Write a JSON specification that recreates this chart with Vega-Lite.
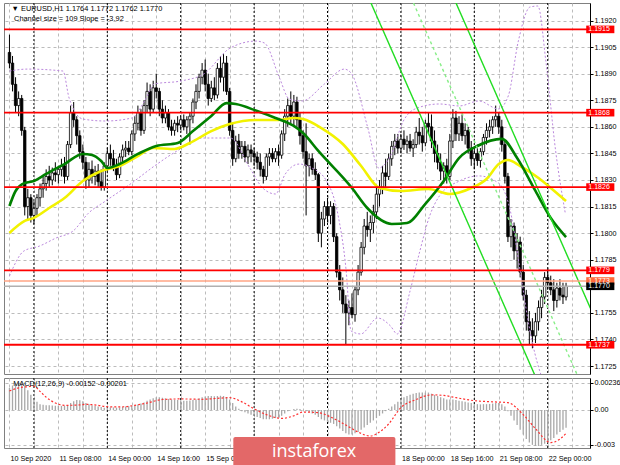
{
  "$schema": "https://vega.github.io/schema/vega-lite/v6.json",
  "padding": {"left": 2, "top": 2, "right": 0, "bottom": 0},
  "background": "#ffffff",
  "spacing": 4,
  "bounds": "flush",
  "config": {
    "view": {"stroke": "#808080", "strokeWidth": 1},
    "font": "Liberation Sans",
    "axis": {"labelFont": "Liberation Sans", "labelFontSize": 7.2, "labelColor": "#000000", "title": null, "gridColor": "#bcbcbc", "gridDash": [3, 3], "gridWidth": 1, "domainColor": "#000000", "tickColor": "#000000"}
  },
  "datasets": {
    "sep": [{"i": 8}, {"i": 32}, {"i": 56}, {"i": 80}, {"i": 104}, {"i": 128}, {"i": 152}, {"i": 176}],
    "lvl": [
      {"p": 1.1915, "k": "level"}, {"p": 1.1868, "k": "level"}, {"p": 1.1826, "k": "level"}, {"p": 1.1779, "k": "level"}, {"p": 1.1737, "k": "level"},
      {"p": 1.1773, "k": "ask"}, {"p": 1.1770, "k": "bid"}
    ],
    "chan": [
      {"s": "up", "i": 140, "p": 1.19535}, {"s": "up", "i": 190, "p": 1.17575},
      {"s": "mid", "i": 125, "p": 1.19578}, {"s": "mid", "i": 190, "p": 1.1703},
      {"s": "low", "i": 110, "p": 1.19621}, {"s": "low", "i": 180, "p": 1.16877}
    ],
    "ma": [
      {"s": "ma2", "i": 0, "p": 1.18001}, {"s": "ma2", "i": 5, "p": 1.18069}, {"s": "ma2", "i": 8, "p": 1.18086}, {"s": "ma2", "i": 13, "p": 1.18142}, {"s": "ma2", "i": 18, "p": 1.18198}, {"s": "ma2", "i": 24, "p": 1.18294}, {"s": "ma2", "i": 30, "p": 1.18351}, {"s": "ma2", "i": 36, "p": 1.18379}, {"s": "ma2", "i": 42, "p": 1.18435}, {"s": "ma2", "i": 47, "p": 1.18481}, {"s": "ma2", "i": 54, "p": 1.18475}, {"s": "ma2", "i": 59, "p": 1.18509}, {"s": "ma2", "i": 66, "p": 1.18576}, {"s": "ma2", "i": 72, "p": 1.18616}, {"s": "ma2", "i": 81, "p": 1.18639}, {"s": "ma2", "i": 88, "p": 1.18639}, {"s": "ma2", "i": 93, "p": 1.1865}, {"s": "ma2", "i": 96, "p": 1.18644}, {"s": "ma2", "i": 102, "p": 1.18593}, {"s": "ma2", "i": 109, "p": 1.18503}, {"s": "ma2", "i": 115, "p": 1.18379}, {"s": "ma2", "i": 121, "p": 1.18255}, {"s": "ma2", "i": 128, "p": 1.18238}, {"s": "ma2", "i": 137, "p": 1.18249}, {"s": "ma2", "i": 144, "p": 1.18221}, {"s": "ma2", "i": 151, "p": 1.18255}, {"s": "ma2", "i": 156, "p": 1.18306}, {"s": "ma2", "i": 160, "p": 1.1839}, {"s": "ma2", "i": 163, "p": 1.18413}, {"s": "ma2", "i": 167, "p": 1.18379}, {"s": "ma2", "i": 173, "p": 1.18311}, {"s": "ma2", "i": 177, "p": 1.18255}, {"s": "ma2", "i": 182, "p": 1.18181},
      {"s": "ma1", "i": 0, "p": 1.18153}, {"s": "ma1", "i": 2, "p": 1.18238}, {"s": "ma1", "i": 5, "p": 1.18283}, {"s": "ma1", "i": 8, "p": 1.18294}, {"s": "ma1", "i": 12, "p": 1.18334}, {"s": "ma1", "i": 18, "p": 1.1839}, {"s": "ma1", "i": 24, "p": 1.18447}, {"s": "ma1", "i": 27, "p": 1.18441}, {"s": "ma1", "i": 30, "p": 1.18407}, {"s": "ma1", "i": 32, "p": 1.18368}, {"s": "ma1", "i": 36, "p": 1.1839}, {"s": "ma1", "i": 42, "p": 1.18447}, {"s": "ma1", "i": 48, "p": 1.18492}, {"s": "ma1", "i": 55, "p": 1.18509}, {"s": "ma1", "i": 60, "p": 1.18576}, {"s": "ma1", "i": 66, "p": 1.18661}, {"s": "ma1", "i": 71, "p": 1.18734}, {"s": "ma1", "i": 74, "p": 1.18729}, {"s": "ma1", "i": 81, "p": 1.18689}, {"s": "ma1", "i": 87, "p": 1.1865}, {"s": "ma1", "i": 93, "p": 1.18605}, {"s": "ma1", "i": 96, "p": 1.18565}, {"s": "ma1", "i": 101, "p": 1.18464}, {"s": "ma1", "i": 112, "p": 1.18255}, {"s": "ma1", "i": 117, "p": 1.18142}, {"s": "ma1", "i": 125, "p": 1.18052}, {"s": "ma1", "i": 130, "p": 1.18057}, {"s": "ma1", "i": 136, "p": 1.18165}, {"s": "ma1", "i": 142, "p": 1.18294}, {"s": "ma1", "i": 147, "p": 1.18424}, {"s": "ma1", "i": 153, "p": 1.18492}, {"s": "ma1", "i": 161, "p": 1.18532}, {"s": "ma1", "i": 166, "p": 1.18424}, {"s": "ma1", "i": 172, "p": 1.18238}, {"s": "ma1", "i": 177, "p": 1.18085}, {"s": "ma1", "i": 182, "p": 1.17978}
    ],
    "bands": [
      {"s": "u", "i": 0, "p": 1.18915}, {"s": "u", "i": 6, "p": 1.18926}, {"s": "u", "i": 17.5, "p": 1.18915}, {"s": "u", "i": 19.5, "p": 1.18763}, {"s": "u", "i": 24, "p": 1.18644}, {"s": "u", "i": 31.4, "p": 1.18633}, {"s": "u", "i": 40, "p": 1.1865}, {"s": "u", "i": 44.2, "p": 1.18746}, {"s": "u", "i": 47.4, "p": 1.18842}, {"s": "u", "i": 56.1, "p": 1.18859}, {"s": "u", "i": 63.5, "p": 1.18898}, {"s": "u", "i": 72.2, "p": 1.19045}, {"s": "u", "i": 80.6, "p": 1.19084}, {"s": "u", "i": 83.4, "p": 1.19073}, {"s": "u", "i": 88.3, "p": 1.18876}, {"s": "u", "i": 91.5, "p": 1.18757}, {"s": "u", "i": 95.7, "p": 1.18746}, {"s": "u", "i": 103, "p": 1.18842}, {"s": "u", "i": 109.5, "p": 1.18926}, {"s": "u", "i": 111.7, "p": 1.18904}, {"s": "u", "i": 117.2, "p": 1.18593}, {"s": "u", "i": 120.7, "p": 1.18368}, {"s": "u", "i": 124.6, "p": 1.18436}, {"s": "u", "i": 128.8, "p": 1.18633}, {"s": "u", "i": 133.3, "p": 1.18706}, {"s": "u", "i": 140.6, "p": 1.18729}, {"s": "u", "i": 147.1, "p": 1.18718}, {"s": "u", "i": 153.5, "p": 1.18746}, {"s": "u", "i": 159.9, "p": 1.18701}, {"s": "u", "i": 163.1, "p": 1.18774}, {"s": "u", "i": 166.4, "p": 1.19084}, {"s": "u", "i": 170.2, "p": 1.19276}, {"s": "u", "i": 172.8, "p": 1.19282}, {"s": "u", "i": 175.4, "p": 1.18971}, {"s": "u", "i": 178.6, "p": 1.18464}, {"s": "u", "i": 181.8, "p": 1.18108},
      {"s": "l", "i": 0, "p": 1.17758}, {"s": "l", "i": 4.7, "p": 1.17899}, {"s": "l", "i": 9.8, "p": 1.17927}, {"s": "l", "i": 15.3, "p": 1.17973}, {"s": "l", "i": 20.8, "p": 1.18012}, {"s": "l", "i": 25.9, "p": 1.18114}, {"s": "l", "i": 31.4, "p": 1.18181}, {"s": "l", "i": 40, "p": 1.18283}, {"s": "l", "i": 47.4, "p": 1.18379}, {"s": "l", "i": 54.8, "p": 1.18464}, {"s": "l", "i": 63.5, "p": 1.18537}, {"s": "l", "i": 72.2, "p": 1.18537}, {"s": "l", "i": 78.6, "p": 1.18368}, {"s": "l", "i": 82.8, "p": 1.18255}, {"s": "l", "i": 87, "p": 1.18221}, {"s": "l", "i": 90.2, "p": 1.18334}, {"s": "l", "i": 94.7, "p": 1.1839}, {"s": "l", "i": 98.9, "p": 1.18368}, {"s": "l", "i": 103.7, "p": 1.18294}, {"s": "l", "i": 107.5, "p": 1.18097}, {"s": "l", "i": 110.1, "p": 1.17787}, {"s": "l", "i": 111.7, "p": 1.17448}, {"s": "l", "i": 114.9, "p": 1.17431}, {"s": "l", "i": 120.4, "p": 1.17521}, {"s": "l", "i": 124.6, "p": 1.17476}, {"s": "l", "i": 126.8, "p": 1.17431}, {"s": "l", "i": 131, "p": 1.17674}, {"s": "l", "i": 134.2, "p": 1.17899}, {"s": "l", "i": 137.4, "p": 1.18097}, {"s": "l", "i": 140.6, "p": 1.1821}, {"s": "l", "i": 147.1, "p": 1.18294}, {"s": "l", "i": 153.5, "p": 1.18323}, {"s": "l", "i": 159.9, "p": 1.18283}, {"s": "l", "i": 163.8, "p": 1.18125}, {"s": "l", "i": 167, "p": 1.17787}, {"s": "l", "i": 170.2, "p": 1.17448}, {"s": "l", "i": 173.4, "p": 1.17222}, {"s": "l", "i": 176, "p": 1.17109}
    ],
    "sig": [
      {"i": 0, "s": 0.00164}, {"i": 3, "s": 0.0019}, {"i": 6, "s": 0.002}, {"i": 8, "s": 0.00205}, {"i": 10, "s": 0.0016}, {"i": 12, "s": 0.0011}, {"i": 15, "s": 0.0006}, {"i": 18, "s": 0.0004}, {"i": 22, "s": 0.00042}, {"i": 25, "s": 0.00048}, {"i": 29, "s": 0.0004}, {"i": 32, "s": 0.00028}, {"i": 36, "s": 0.00026}, {"i": 41, "s": 0.0004}, {"i": 45, "s": 0.0006}, {"i": 50, "s": 0.0009}, {"i": 56, "s": 0.00095}, {"i": 63, "s": 0.00092}, {"i": 68, "s": 0.001}, {"i": 72, "s": 0.00106}, {"i": 76, "s": 0.0007}, {"i": 80, "s": 0.0001}, {"i": 84, "s": -0.0004}, {"i": 89, "s": -0.00072}, {"i": 93, "s": -0.0005}, {"i": 96, "s": -0.00018}, {"i": 101, "s": -0.00023}, {"i": 105, "s": -0.0006}, {"i": 110, "s": -0.0013}, {"i": 114, "s": -0.0019}, {"i": 118, "s": -0.00224}, {"i": 121, "s": -0.0019}, {"i": 124, "s": -0.0012}, {"i": 128, "s": 0.0002}, {"i": 133, "s": 0.0009}, {"i": 138, "s": 0.0013}, {"i": 142, "s": 0.00125}, {"i": 146, "s": 0.00106}, {"i": 152, "s": 0.0008}, {"i": 158, "s": 0.0007}, {"i": 163, "s": 0.00063}, {"i": 168, "s": -0.0004}, {"i": 172, "s": -0.0016}, {"i": 177, "s": -0.0028}, {"i": 180, "s": -0.0025}, {"i": 182, "s": -0.00201}
    ],
    "bars": [
      {"i":0,"o":1.1902,"h":1.1912,"l":1.1893,"c":1.1896,"m":0.0019},
      {"i":1,"o":1.1896,"h":1.1900,"l":1.1880,"c":1.1884,"m":0.0021},
      {"i":2,"o":1.1884,"h":1.1888,"l":1.1868,"c":1.1872,"m":0.0023},
      {"i":3,"o":1.1872,"h":1.1880,"l":1.1866,"c":1.1876,"m":0.00236},
      {"i":4,"o":1.1876,"h":1.1878,"l":1.1855,"c":1.1858,"m":0.0023},
      {"i":5,"o":1.1858,"h":1.1860,"l":1.1810,"c":1.1815,"m":0.0021},
      {"i":6,"o":1.1815,"h":1.1825,"l":1.1808,"c":1.1820,"m":0.0017},
      {"i":7,"o":1.1820,"h":1.1822,"l":1.1806,"c":1.1810,"m":0.0013},
      {"i":8,"o":1.1810,"h":1.1818,"l":1.1805,"c":1.1814,"m":0.0009},
      {"i":9,"o":1.1814,"h":1.1822,"l":1.1810,"c":1.1820,"m":0.0007},
      {"i":10,"o":1.1820,"h":1.1828,"l":1.1815,"c":1.1825,"m":0.0005},
      {"i":11,"o":1.1825,"h":1.1832,"l":1.1820,"c":1.1828,"m":0.00045},
      {"i":12,"o":1.1828,"h":1.1836,"l":1.1824,"c":1.1832,"m":0.0004},
      {"i":13,"o":1.1832,"h":1.1838,"l":1.1826,"c":1.1830,"m":0.0004},
      {"i":14,"o":1.1830,"h":1.1837,"l":1.1827,"c":1.1834,"m":0.00038},
      {"i":15,"o":1.1834,"h":1.1840,"l":1.1829,"c":1.1833,"m":0.00037},
      {"i":16,"o":1.1833,"h":1.1838,"l":1.1828,"c":1.1836,"m":0.00036},
      {"i":17,"o":1.1836,"h":1.1842,"l":1.1832,"c":1.1838,"m":0.00035},
      {"i":18,"o":1.1838,"h":1.1843,"l":1.1828,"c":1.1832,"m":0.00036},
      {"i":19,"o":1.1832,"h":1.1852,"l":1.1830,"c":1.1850,"m":0.0004},
      {"i":20,"o":1.1850,"h":1.1872,"l":1.1848,"c":1.1868,"m":0.0006},
      {"i":21,"o":1.1868,"h":1.1874,"l":1.1860,"c":1.1864,"m":0.00075},
      {"i":22,"o":1.1864,"h":1.1866,"l":1.1850,"c":1.1855,"m":0.00085},
      {"i":23,"o":1.1855,"h":1.1858,"l":1.1842,"c":1.1846,"m":0.00083},
      {"i":24,"o":1.1846,"h":1.1850,"l":1.1836,"c":1.1840,"m":0.00075},
      {"i":25,"o":1.1840,"h":1.1843,"l":1.1825,"c":1.1830,"m":0.0006},
      {"i":26,"o":1.1830,"h":1.1840,"l":1.1826,"c":1.1836,"m":0.0005},
      {"i":27,"o":1.1836,"h":1.1841,"l":1.1828,"c":1.1832,"m":0.0004},
      {"i":28,"o":1.1832,"h":1.1838,"l":1.1827,"c":1.1835,"m":0.00035},
      {"i":29,"o":1.1835,"h":1.1839,"l":1.1826,"c":1.1829,"m":0.0003},
      {"i":30,"o":1.1829,"h":1.1836,"l":1.1824,"c":1.1826,"m":0.00025},
      {"i":31,"o":1.1826,"h":1.1840,"l":1.1824,"c":1.1838,"m":0.0002},
      {"i":32,"o":1.1838,"h":1.1848,"l":1.1835,"c":1.1845,"m":0.0002},
      {"i":33,"o":1.1845,"h":1.1850,"l":1.1838,"c":1.1842,"m":0.00022},
      {"i":34,"o":1.1842,"h":1.1847,"l":1.1835,"c":1.1838,"m":0.00022},
      {"i":35,"o":1.1838,"h":1.1842,"l":1.1830,"c":1.1833,"m":0.0002},
      {"i":36,"o":1.1833,"h":1.1845,"l":1.1831,"c":1.1843,"m":0.00022},
      {"i":37,"o":1.1843,"h":1.1850,"l":1.1840,"c":1.1847,"m":0.00025},
      {"i":38,"o":1.1847,"h":1.1852,"l":1.1843,"c":1.1848,"m":0.0003},
      {"i":39,"o":1.1848,"h":1.1852,"l":1.1844,"c":1.1846,"m":0.00032},
      {"i":40,"o":1.1846,"h":1.1858,"l":1.1844,"c":1.1856,"m":0.00035},
      {"i":41,"o":1.1856,"h":1.1866,"l":1.1852,"c":1.1862,"m":0.0004},
      {"i":42,"o":1.1862,"h":1.1872,"l":1.1858,"c":1.1868,"m":0.00048},
      {"i":43,"o":1.1868,"h":1.1870,"l":1.1855,"c":1.1858,"m":0.00055},
      {"i":44,"o":1.1858,"h":1.1875,"l":1.1856,"c":1.1872,"m":0.00065},
      {"i":45,"o":1.1872,"h":1.1885,"l":1.1868,"c":1.1880,"m":0.0008},
      {"i":46,"o":1.1880,"h":1.1884,"l":1.1866,"c":1.1870,"m":0.0009},
      {"i":47,"o":1.1870,"h":1.1886,"l":1.1868,"c":1.1882,"m":0.001},
      {"i":48,"o":1.1882,"h":1.1890,"l":1.1876,"c":1.1880,"m":0.0011},
      {"i":49,"o":1.1880,"h":1.1882,"l":1.1866,"c":1.1870,"m":0.0011},
      {"i":50,"o":1.1870,"h":1.1875,"l":1.1862,"c":1.1865,"m":0.00105},
      {"i":51,"o":1.1865,"h":1.1872,"l":1.1862,"c":1.1868,"m":0.001},
      {"i":52,"o":1.1868,"h":1.1870,"l":1.1858,"c":1.1860,"m":0.00095},
      {"i":53,"o":1.1860,"h":1.1864,"l":1.1855,"c":1.1858,"m":0.0009},
      {"i":54,"o":1.1858,"h":1.1864,"l":1.1855,"c":1.1862,"m":0.00088},
      {"i":55,"o":1.1862,"h":1.1866,"l":1.1857,"c":1.1861,"m":0.00085},
      {"i":56,"o":1.1861,"h":1.1866,"l":1.1858,"c":1.1864,"m":0.00083},
      {"i":57,"o":1.1864,"h":1.1867,"l":1.1858,"c":1.1860,"m":0.0008},
      {"i":58,"o":1.1860,"h":1.1866,"l":1.1856,"c":1.1864,"m":0.0008},
      {"i":59,"o":1.1864,"h":1.1868,"l":1.1850,"c":1.1866,"m":0.00082},
      {"i":60,"o":1.1866,"h":1.1876,"l":1.1862,"c":1.1874,"m":0.00085},
      {"i":61,"o":1.1874,"h":1.1884,"l":1.1870,"c":1.1880,"m":0.0009},
      {"i":62,"o":1.1880,"h":1.1890,"l":1.1876,"c":1.1888,"m":0.001},
      {"i":63,"o":1.1888,"h":1.1896,"l":1.1884,"c":1.1892,"m":0.0011},
      {"i":64,"o":1.1892,"h":1.1898,"l":1.1880,"c":1.1884,"m":0.00115},
      {"i":65,"o":1.1884,"h":1.1890,"l":1.1872,"c":1.1876,"m":0.0012},
      {"i":66,"o":1.1876,"h":1.1886,"l":1.1874,"c":1.1882,"m":0.0012},
      {"i":67,"o":1.1882,"h":1.1888,"l":1.1875,"c":1.1878,"m":0.00118},
      {"i":68,"o":1.1878,"h":1.1896,"l":1.1876,"c":1.1893,"m":0.0012},
      {"i":69,"o":1.1893,"h":1.1900,"l":1.1885,"c":1.1888,"m":0.00122},
      {"i":70,"o":1.1888,"h":1.1901,"l":1.1880,"c":1.1896,"m":0.0012},
      {"i":71,"o":1.1896,"h":1.1900,"l":1.1878,"c":1.1880,"m":0.0011},
      {"i":72,"o":1.1880,"h":1.1882,"l":1.1855,"c":1.1858,"m":0.0009},
      {"i":73,"o":1.1858,"h":1.1862,"l":1.1838,"c":1.1842,"m":0.0006},
      {"i":74,"o":1.1842,"h":1.1855,"l":1.1840,"c":1.1852,"m":0.0003},
      {"i":75,"o":1.1852,"h":1.1856,"l":1.1842,"c":1.1845,"m":0.0001},
      {"i":76,"o":1.1845,"h":1.1852,"l":1.1842,"c":1.1849,"m":-0.0001},
      {"i":77,"o":1.1849,"h":1.1852,"l":1.1840,"c":1.1843,"m":-0.0002},
      {"i":78,"o":1.1843,"h":1.1850,"l":1.1839,"c":1.1847,"m":-0.0003},
      {"i":79,"o":1.1847,"h":1.1850,"l":1.1840,"c":1.1845,"m":-0.0004},
      {"i":80,"o":1.1845,"h":1.1848,"l":1.1838,"c":1.1843,"m":-0.0005},
      {"i":81,"o":1.1843,"h":1.1846,"l":1.1836,"c":1.1840,"m":-0.0006},
      {"i":82,"o":1.1840,"h":1.1845,"l":1.1832,"c":1.1836,"m":-0.0007},
      {"i":83,"o":1.1836,"h":1.1838,"l":1.1828,"c":1.1832,"m":-0.0008},
      {"i":84,"o":1.1832,"h":1.1845,"l":1.1830,"c":1.1843,"m":-0.0008},
      {"i":85,"o":1.1843,"h":1.1848,"l":1.1838,"c":1.1845,"m":-0.0008},
      {"i":86,"o":1.1845,"h":1.1848,"l":1.1840,"c":1.1842,"m":-0.00075},
      {"i":87,"o":1.1842,"h":1.1848,"l":1.1840,"c":1.1846,"m":-0.0007},
      {"i":88,"o":1.1846,"h":1.1850,"l":1.1838,"c":1.1844,"m":-0.00065},
      {"i":89,"o":1.1844,"h":1.1858,"l":1.1842,"c":1.1856,"m":-0.0005},
      {"i":90,"o":1.1856,"h":1.1870,"l":1.1852,"c":1.1866,"m":-0.0003},
      {"i":91,"o":1.1866,"h":1.1876,"l":1.1860,"c":1.1872,"m":-0.0001},
      {"i":92,"o":1.1872,"h":1.1880,"l":1.1862,"c":1.1866,"m":0.0},
      {"i":93,"o":1.1866,"h":1.1878,"l":1.1860,"c":1.1874,"m":0.00008},
      {"i":94,"o":1.1874,"h":1.1877,"l":1.1860,"c":1.1864,"m":0.0001},
      {"i":95,"o":1.1864,"h":1.1868,"l":1.1850,"c":1.1855,"m":0.00008},
      {"i":96,"o":1.1855,"h":1.1858,"l":1.1842,"c":1.1846,"m":0.0},
      {"i":97,"o":1.1846,"h":1.1862,"l":1.1810,"c":1.1838,"m":-0.0001},
      {"i":98,"o":1.1838,"h":1.1845,"l":1.1832,"c":1.1842,"m":-0.0002},
      {"i":99,"o":1.1842,"h":1.1845,"l":1.1833,"c":1.1836,"m":-0.0003},
      {"i":100,"o":1.1836,"h":1.1840,"l":1.1830,"c":1.1833,"m":-0.0004},
      {"i":101,"o":1.1833,"h":1.1834,"l":1.1795,"c":1.1800,"m":-0.0006},
      {"i":102,"o":1.1800,"h":1.1812,"l":1.1792,"c":1.1808,"m":-0.0008},
      {"i":103,"o":1.1808,"h":1.1818,"l":1.1804,"c":1.1815,"m":-0.0009},
      {"i":104,"o":1.1815,"h":1.1820,"l":1.1806,"c":1.1810,"m":-0.001},
      {"i":105,"o":1.1810,"h":1.1818,"l":1.1805,"c":1.1815,"m":-0.0011},
      {"i":106,"o":1.1815,"h":1.1817,"l":1.1795,"c":1.1798,"m":-0.0012},
      {"i":107,"o":1.1798,"h":1.1800,"l":1.1775,"c":1.1778,"m":-0.0014},
      {"i":108,"o":1.1778,"h":1.1782,"l":1.1762,"c":1.1768,"m":-0.0016},
      {"i":109,"o":1.1768,"h":1.1775,"l":1.1755,"c":1.1760,"m":-0.0018},
      {"i":110,"o":1.1760,"h":1.1765,"l":1.1737,"c":1.1755,"m":-0.002},
      {"i":111,"o":1.1755,"h":1.1762,"l":1.1748,"c":1.1758,"m":-0.0021},
      {"i":112,"o":1.1758,"h":1.1766,"l":1.1752,"c":1.1754,"m":-0.0021},
      {"i":113,"o":1.1754,"h":1.1770,"l":1.1750,"c":1.1768,"m":-0.002},
      {"i":114,"o":1.1768,"h":1.1782,"l":1.1765,"c":1.1778,"m":-0.0019},
      {"i":115,"o":1.1778,"h":1.1795,"l":1.1776,"c":1.1792,"m":-0.0017},
      {"i":116,"o":1.1792,"h":1.1808,"l":1.1788,"c":1.1804,"m":-0.0015},
      {"i":117,"o":1.1804,"h":1.1812,"l":1.1798,"c":1.1802,"m":-0.0013},
      {"i":118,"o":1.1802,"h":1.1810,"l":1.1795,"c":1.1806,"m":-0.0011},
      {"i":119,"o":1.1806,"h":1.1816,"l":1.1800,"c":1.1812,"m":-0.0009},
      {"i":120,"o":1.1812,"h":1.1826,"l":1.1808,"c":1.1822,"m":-0.0007},
      {"i":121,"o":1.1822,"h":1.1830,"l":1.1815,"c":1.1826,"m":-0.0005},
      {"i":122,"o":1.1826,"h":1.1838,"l":1.1822,"c":1.1834,"m":-0.0003},
      {"i":123,"o":1.1834,"h":1.1842,"l":1.1826,"c":1.1832,"m":-0.0001},
      {"i":124,"o":1.1832,"h":1.1845,"l":1.1830,"c":1.1842,"m":0.0001},
      {"i":125,"o":1.1842,"h":1.1852,"l":1.1838,"c":1.1849,"m":0.0003},
      {"i":126,"o":1.1849,"h":1.1856,"l":1.1844,"c":1.1852,"m":0.0005},
      {"i":127,"o":1.1852,"h":1.1856,"l":1.1845,"c":1.1848,"m":0.0007},
      {"i":128,"o":1.1848,"h":1.1856,"l":1.1845,"c":1.1853,"m":0.0009},
      {"i":129,"o":1.1853,"h":1.1858,"l":1.1847,"c":1.1850,"m":0.0011},
      {"i":130,"o":1.1850,"h":1.1855,"l":1.1845,"c":1.1852,"m":0.0012},
      {"i":131,"o":1.1852,"h":1.1856,"l":1.1846,"c":1.1848,"m":0.0013},
      {"i":132,"o":1.1848,"h":1.1853,"l":1.1843,"c":1.1850,"m":0.0014},
      {"i":133,"o":1.1850,"h":1.1860,"l":1.1848,"c":1.1857,"m":0.00145},
      {"i":134,"o":1.1857,"h":1.1865,"l":1.1850,"c":1.1855,"m":0.0015},
      {"i":135,"o":1.1855,"h":1.1860,"l":1.1846,"c":1.1851,"m":0.0015},
      {"i":136,"o":1.1851,"h":1.1864,"l":1.1849,"c":1.1862,"m":0.0015},
      {"i":137,"o":1.1862,"h":1.1868,"l":1.1856,"c":1.1860,"m":0.0015},
      {"i":138,"o":1.1860,"h":1.1867,"l":1.1848,"c":1.1852,"m":0.0014},
      {"i":139,"o":1.1852,"h":1.1858,"l":1.1840,"c":1.1845,"m":0.0013},
      {"i":140,"o":1.1845,"h":1.1850,"l":1.1836,"c":1.1840,"m":0.0012},
      {"i":141,"o":1.1840,"h":1.1845,"l":1.1830,"c":1.1835,"m":0.0011},
      {"i":142,"o":1.1835,"h":1.1840,"l":1.1828,"c":1.1838,"m":0.001},
      {"i":143,"o":1.1838,"h":1.1842,"l":1.1828,"c":1.1832,"m":0.0009},
      {"i":144,"o":1.1832,"h":1.1856,"l":1.1830,"c":1.1852,"m":0.0009},
      {"i":145,"o":1.1852,"h":1.1870,"l":1.1848,"c":1.1865,"m":0.0009},
      {"i":146,"o":1.1865,"h":1.1869,"l":1.1852,"c":1.1856,"m":0.00085},
      {"i":147,"o":1.1856,"h":1.1866,"l":1.1852,"c":1.1862,"m":0.0008},
      {"i":148,"o":1.1862,"h":1.1867,"l":1.1852,"c":1.1855,"m":0.00075},
      {"i":149,"o":1.1855,"h":1.1862,"l":1.1850,"c":1.1858,"m":0.0007},
      {"i":150,"o":1.1858,"h":1.1860,"l":1.1845,"c":1.1848,"m":0.00065},
      {"i":151,"o":1.1848,"h":1.1852,"l":1.1838,"c":1.1842,"m":0.0006},
      {"i":152,"o":1.1842,"h":1.1848,"l":1.1836,"c":1.1845,"m":0.0005},
      {"i":153,"o":1.1845,"h":1.1850,"l":1.1838,"c":1.1841,"m":0.0005},
      {"i":154,"o":1.1841,"h":1.1848,"l":1.1837,"c":1.1846,"m":0.00048},
      {"i":155,"o":1.1846,"h":1.1856,"l":1.1844,"c":1.1854,"m":0.0005},
      {"i":156,"o":1.1854,"h":1.1862,"l":1.1850,"c":1.1858,"m":0.0005},
      {"i":157,"o":1.1858,"h":1.1864,"l":1.1854,"c":1.1860,"m":0.00052},
      {"i":158,"o":1.1860,"h":1.1866,"l":1.1856,"c":1.1864,"m":0.00055},
      {"i":159,"o":1.1864,"h":1.1872,"l":1.1860,"c":1.1866,"m":0.0006},
      {"i":160,"o":1.1866,"h":1.1868,"l":1.1856,"c":1.1860,"m":0.0006},
      {"i":161,"o":1.1860,"h":1.1864,"l":1.1846,"c":1.1850,"m":0.0005},
      {"i":162,"o":1.1850,"h":1.1852,"l":1.1828,"c":1.1832,"m":0.0003},
      {"i":163,"o":1.1832,"h":1.1834,"l":1.1795,"c":1.1798,"m":-0.0001},
      {"i":164,"o":1.1798,"h":1.1808,"l":1.1792,"c":1.1804,"m":-0.0005},
      {"i":165,"o":1.1804,"h":1.1806,"l":1.1785,"c":1.1790,"m":-0.0009},
      {"i":166,"o":1.1790,"h":1.1800,"l":1.1780,"c":1.1795,"m":-0.0013},
      {"i":167,"o":1.1795,"h":1.1798,"l":1.1775,"c":1.1778,"m":-0.0017},
      {"i":168,"o":1.1778,"h":1.1782,"l":1.1762,"c":1.1765,"m":-0.0021},
      {"i":169,"o":1.1765,"h":1.1768,"l":1.1745,"c":1.1750,"m":-0.0025},
      {"i":170,"o":1.1750,"h":1.1756,"l":1.1737,"c":1.1745,"m":-0.0028},
      {"i":171,"o":1.1745,"h":1.1752,"l":1.1735,"c":1.1742,"m":-0.003},
      {"i":172,"o":1.1742,"h":1.1755,"l":1.1738,"c":1.1750,"m":-0.0031},
      {"i":173,"o":1.1750,"h":1.1762,"l":1.1745,"c":1.1758,"m":-0.0031},
      {"i":174,"o":1.1758,"h":1.1768,"l":1.1752,"c":1.1764,"m":-0.003},
      {"i":175,"o":1.1764,"h":1.1778,"l":1.1760,"c":1.1775,"m":-0.0029},
      {"i":176,"o":1.1775,"h":1.1780,"l":1.1768,"c":1.1772,"m":-0.0028},
      {"i":177,"o":1.1772,"h":1.1776,"l":1.1765,"c":1.1768,"m":-0.0026},
      {"i":178,"o":1.1768,"h":1.1774,"l":1.1756,"c":1.1762,"m":-0.0024},
      {"i":179,"o":1.1762,"h":1.1772,"l":1.1758,"c":1.1769,"m":-0.0021},
      {"i":180,"o":1.1769,"h":1.1774,"l":1.1762,"c":1.1765,"m":-0.0019},
      {"i":181,"o":1.1765,"h":1.1772,"l":1.1760,"c":1.1764,"m":-0.0017},
      {"i":182,"o":1.1764,"h":1.1772,"l":1.1762,"c":1.1770,"m":-0.00152}
    ],
    "tl": [
      {"i": 0, "t": "10 Sep 2020"}, {"i": 16, "t": "11 Sep 08:00"}, {"i": 32, "t": "14 Sep 00:00"}, {"i": 48, "t": "14 Sep 16:00"}, {"i": 64, "t": "15 Sep 08:00"}, {"i": 128, "t": "18 Sep 00:00"}, {"i": 144, "t": "18 Sep 16:00"}, {"i": 160, "t": "21 Sep 08:00"}, {"i": 176, "t": "22 Sep 00:00"}
    ]
  },
  "vconcat": [
    {
      "width": 586,
      "height": 371,
      "resolve": {"scale": {"color": "independent", "fill": "independent", "size": "independent", "strokeDash": "independent"}},
      "layer": [
        {
          "data": {"name": "sep"},
          "mark": {"type": "rule", "color": "#000000", "strokeDash": [2, 2], "strokeWidth": 1},
          "encoding": {
            "x": {"field": "i", "type": "quantitative", "scale": {"domain": [-0.15, 188.2], "nice": false, "zero": false},
              "axis": {"values": [0, 8, 16, 24, 32, 40, 48, 56, 64, 72, 80, 88, 96, 104, 112, 120, 128, 136, 144, 152, 160, 168, 176, 184], "grid": true, "labels": false, "ticks": false, "domain": false}}
          }
        },
        {
          "data": {"name": "bars"},
          "mark": {"type": "rule", "color": "#000000", "strokeWidth": 1},
          "encoding": {
            "x": {"field": "i", "type": "quantitative", "scale": {"domain": [-0.15, 188.2], "nice": false, "zero": false},
              "axis": {"values": [0, 8, 16, 24, 32, 40, 48, 56, 64, 72, 80, 88, 96, 104, 112, 120, 128, 136, 144, 152, 160, 168, 176, 184], "grid": true, "labels": false, "ticks": false, "domain": false}},
            "y": {"field": "l", "type": "quantitative", "scale": {"domain": [1.17205, 1.19299], "nice": false, "zero": false},
              "axis": {"orient": "right", "values": [1.1725, 1.174, 1.1755, 1.1785, 1.18, 1.1815, 1.183, 1.1845, 1.186, 1.1875, 1.189, 1.1905, 1.192], "format": ".4f", "grid": true, "tickSize": 3, "labelPadding": 1, "domain": true}},
            "y2": {"field": "h"}
          }
        },
        {
          "data": {"name": "bars"},
          "mark": {"type": "bar", "size": 2.4, "stroke": "#000000", "strokeWidth": 0.8},
          "encoding": {
            "x": {"field": "i", "type": "quantitative", "scale": {"domain": [-0.15, 188.2], "nice": false, "zero": false},
              "axis": {"values": [0, 8, 16, 24, 32, 40, 48, 56, 64, 72, 80, 88, 96, 104, 112, 120, 128, 136, 144, 152, 160, 168, 176, 184], "grid": true, "labels": false, "ticks": false, "domain": false}},
            "y": {"field": "o", "type": "quantitative", "scale": {"domain": [1.17205, 1.19299], "nice": false, "zero": false},
              "axis": {"orient": "right", "values": [1.1725, 1.174, 1.1755, 1.1785, 1.18, 1.1815, 1.183, 1.1845, 1.186, 1.1875, 1.189, 1.1905, 1.192], "format": ".4f", "grid": true, "tickSize": 3, "labelPadding": 1, "domain": true}},
            "y2": {"field": "c"},
            "fill": {"condition": {"test": "datum.c >= datum.o", "value": "#ffffff"}, "value": "#000000"}
          }
        },
        {
          "data": {"name": "bands"},
          "mark": {"type": "line", "color": "#bb88dd", "strokeDash": [2, 2], "strokeWidth": 1, "clip": true, "interpolate": "monotone"},
          "encoding": {
            "x": {"field": "i", "type": "quantitative", "scale": {"domain": [-0.15, 188.2], "nice": false, "zero": false},
              "axis": {"values": [0, 8, 16, 24, 32, 40, 48, 56, 64, 72, 80, 88, 96, 104, 112, 120, 128, 136, 144, 152, 160, 168, 176, 184], "grid": true, "labels": false, "ticks": false, "domain": false}},
            "y": {"field": "p", "type": "quantitative", "scale": {"domain": [1.17205, 1.19299], "nice": false, "zero": false},
              "axis": {"orient": "right", "values": [1.1725, 1.174, 1.1755, 1.1785, 1.18, 1.1815, 1.183, 1.1845, 1.186, 1.1875, 1.189, 1.1905, 1.192], "format": ".4f", "grid": true, "tickSize": 3, "labelPadding": 1, "domain": true}},
            "detail": {"field": "s"}
          }
        },
        {
          "data": {"name": "ma"},
          "mark": {"type": "line", "strokeWidth": 2.6, "clip": true, "interpolate": "monotone"},
          "encoding": {
            "x": {"field": "i", "type": "quantitative", "scale": {"domain": [-0.15, 188.2], "nice": false, "zero": false},
              "axis": {"values": [0, 8, 16, 24, 32, 40, 48, 56, 64, 72, 80, 88, 96, 104, 112, 120, 128, 136, 144, 152, 160, 168, 176, 184], "grid": true, "labels": false, "ticks": false, "domain": false}},
            "y": {"field": "p", "type": "quantitative", "scale": {"domain": [1.17205, 1.19299], "nice": false, "zero": false},
              "axis": {"orient": "right", "values": [1.1725, 1.174, 1.1755, 1.1785, 1.18, 1.1815, 1.183, 1.1845, 1.186, 1.1875, 1.189, 1.1905, 1.192], "format": ".4f", "grid": true, "tickSize": 3, "labelPadding": 1, "domain": true}},
            "color": {"field": "s", "type": "nominal", "scale": {"domain": ["ma1", "ma2"], "range": ["#008000", "#f2f200"]}, "legend": null}
          }
        },
        {
          "data": {"name": "chan"},
          "mark": {"type": "line", "strokeWidth": 1.4, "clip": true},
          "encoding": {
            "x": {"field": "i", "type": "quantitative", "scale": {"domain": [-0.15, 188.2], "nice": false, "zero": false},
              "axis": {"values": [0, 8, 16, 24, 32, 40, 48, 56, 64, 72, 80, 88, 96, 104, 112, 120, 128, 136, 144, 152, 160, 168, 176, 184], "grid": true, "labels": false, "ticks": false, "domain": false}},
            "y": {"field": "p", "type": "quantitative", "scale": {"domain": [1.17205, 1.19299], "nice": false, "zero": false},
              "axis": {"orient": "right", "values": [1.1725, 1.174, 1.1755, 1.1785, 1.18, 1.1815, 1.183, 1.1845, 1.186, 1.1875, 1.189, 1.1905, 1.192], "format": ".4f", "grid": true, "tickSize": 3, "labelPadding": 1, "domain": true}},
            "color": {"field": "s", "type": "nominal", "scale": {"domain": ["up", "mid", "low"], "range": ["#22dd22", "#88ee88", "#22dd22"]}, "legend": null},
            "strokeDash": {"field": "s", "type": "nominal", "scale": {"domain": ["up", "mid", "low"], "range": [[1, 0], [3, 3], [1, 0]]}, "legend": null}
          }
        },
        {
          "data": {"name": "lvl"},
          "mark": {"type": "rule"},
          "encoding": {
            "y": {"field": "p", "type": "quantitative", "scale": {"domain": [1.17205, 1.19299], "nice": false, "zero": false},
              "axis": {"orient": "right", "values": [1.1725, 1.174, 1.1755, 1.1785, 1.18, 1.1815, 1.183, 1.1845, 1.186, 1.1875, 1.189, 1.1905, 1.192], "format": ".4f", "grid": true, "tickSize": 3, "labelPadding": 1, "domain": true}},
            "color": {"field": "k", "type": "nominal", "scale": {"domain": ["level", "ask", "bid"], "range": ["#ff0000", "#ffa585", "#b0b0b0"]}, "legend": null},
            "size": {"field": "k", "type": "nominal", "scale": {"domain": ["level", "ask", "bid"], "range": [1.8, 1.6, 1]}, "legend": null}
          }
        },
        {
          "data": {"name": "lvl"},
          "mark": {"type": "rect", "yOffset": -3.8, "y2Offset": 3.8},
          "encoding": {
            "x": {"datum": 188.6, "scale": {"domain": [-0.15, 188.2], "nice": false, "zero": false},
              "axis": {"values": [0, 8, 16, 24, 32, 40, 48, 56, 64, 72, 80, 88, 96, 104, 112, 120, 128, 136, 144, 152, 160, 168, 176, 184], "grid": true, "labels": false, "ticks": false, "domain": false}},
            "x2": {"datum": 197.8},
            "y": {"field": "p", "type": "quantitative", "scale": {"domain": [1.17205, 1.19299], "nice": false, "zero": false},
              "axis": {"orient": "right", "values": [1.1725, 1.174, 1.1755, 1.1785, 1.18, 1.1815, 1.183, 1.1845, 1.186, 1.1875, 1.189, 1.1905, 1.192], "format": ".4f", "grid": true, "tickSize": 3, "labelPadding": 1, "domain": true}},
            "y2": {"field": "p"},
            "fill": {"field": "k", "type": "nominal", "scale": {"domain": ["level", "ask", "bid"], "range": ["#ff0000", "#ff6a3a", "#000000"]}, "legend": null}
          }
        },
        {
          "data": {"name": "lvl"},
          "mark": {"type": "text", "align": "left", "baseline": "middle", "fontSize": 7, "color": "#ffffff", "font": "Liberation Sans"},
          "encoding": {
            "x": {"datum": 189.3, "scale": {"domain": [-0.15, 188.2], "nice": false, "zero": false},
              "axis": {"values": [0, 8, 16, 24, 32, 40, 48, 56, 64, 72, 80, 88, 96, 104, 112, 120, 128, 136, 144, 152, 160, 168, 176, 184], "grid": true, "labels": false, "ticks": false, "domain": false}},
            "y": {"field": "p", "type": "quantitative", "scale": {"domain": [1.17205, 1.19299], "nice": false, "zero": false},
              "axis": {"orient": "right", "values": [1.1725, 1.174, 1.1755, 1.1785, 1.18, 1.1815, 1.183, 1.1845, 1.186, 1.1875, 1.189, 1.1905, 1.192], "format": ".4f", "grid": true, "tickSize": 3, "labelPadding": 1, "domain": true}},
            "text": {"field": "p", "type": "quantitative", "format": ".4f"}
          }
        },
        {
          "data": {"values": [{"t": "▼ EURUSD,H1  1.1764 1.1772 1.1762 1.1770"}]},
          "mark": {"type": "text", "align": "left", "baseline": "middle", "fontSize": 7.4, "color": "#000000", "font": "Liberation Sans"},
          "encoding": {
            "x": {"datum": 0.7, "scale": {"domain": [-0.15, 188.2], "nice": false, "zero": false},
              "axis": {"values": [0, 8, 16, 24, 32, 40, 48, 56, 64, 72, 80, 88, 96, 104, 112, 120, 128, 136, 144, 152, 160, 168, 176, 184], "grid": true, "labels": false, "ticks": false, "domain": false}},
            "y": {"datum": 1.19265, "scale": {"domain": [1.17205, 1.19299], "nice": false, "zero": false},
              "axis": {"orient": "right", "values": [1.1725, 1.174, 1.1755, 1.1785, 1.18, 1.1815, 1.183, 1.1845, 1.186, 1.1875, 1.189, 1.1905, 1.192], "format": ".4f", "grid": true, "tickSize": 3, "labelPadding": 1, "domain": true}},
            "text": {"field": "t"}
          }
        },
        {
          "data": {"values": [{"t": "Channel size = 109 Slope = -3.92"}]},
          "mark": {"type": "text", "align": "left", "baseline": "middle", "fontSize": 7.4, "color": "#000000", "font": "Liberation Sans"},
          "encoding": {
            "x": {"datum": 1.5, "scale": {"domain": [-0.15, 188.2], "nice": false, "zero": false},
              "axis": {"values": [0, 8, 16, 24, 32, 40, 48, 56, 64, 72, 80, 88, 96, 104, 112, 120, 128, 136, 144, 152, 160, 168, 176, 184], "grid": true, "labels": false, "ticks": false, "domain": false}},
            "y": {"datum": 1.19206, "scale": {"domain": [1.17205, 1.19299], "nice": false, "zero": false},
              "axis": {"orient": "right", "values": [1.1725, 1.174, 1.1755, 1.1785, 1.18, 1.1815, 1.183, 1.1845, 1.186, 1.1875, 1.189, 1.1905, 1.192], "format": ".4f", "grid": true, "tickSize": 3, "labelPadding": 1, "domain": true}},
            "text": {"field": "t"}
          }
        }
      ]
    },
    {
      "width": 586,
      "height": 70,
      "layer": [
        {
          "data": {"name": "sep"},
          "mark": {"type": "rule", "color": "#000000", "strokeDash": [2, 2], "strokeWidth": 1},
          "encoding": {
            "x": {"field": "i", "type": "quantitative", "scale": {"domain": [-0.15, 188.2], "nice": false, "zero": false},
              "axis": {"values": [0, 8, 16, 24, 32, 40, 48, 56, 64, 72, 80, 88, 96, 104, 112, 120, 128, 136, 144, 152, 160, 168, 176, 184], "grid": true, "labels": false, "ticks": false, "domain": false}}
          }
        },
        {
          "data": {"name": "bars"},
          "mark": {"type": "bar", "size": 1.3, "color": "#a8a8a8"},
          "encoding": {
            "x": {"field": "i", "type": "quantitative", "scale": {"domain": [-0.15, 188.2], "nice": false, "zero": false},
              "axis": {"values": [0, 8, 16, 24, 32, 40, 48, 56, 64, 72, 80, 88, 96, 104, 112, 120, 128, 136, 144, 152, 160, 168, 176, 184], "grid": true, "labels": false, "ticks": false, "domain": false}},
            "y": {"field": "m", "type": "quantitative", "scale": {"domain": [-0.00327, 0.00275], "nice": false, "zero": false},
              "axis": {"orient": "right", "values": [0.00236, 0, -0.003], "labelExpr": "datum.value == 0 ? '0.00' : (datum.value > 0 ? '0.00236' : '-0.003')", "grid": true, "tickSize": 3, "labelPadding": 1}},
            "y2": {"datum": 0}
          }
        },
        {
          "data": {"name": "sig"},
          "mark": {"type": "line", "color": "#ff3030", "strokeDash": [2, 2], "strokeWidth": 1.2, "interpolate": "monotone"},
          "encoding": {
            "x": {"field": "i", "type": "quantitative", "scale": {"domain": [-0.15, 188.2], "nice": false, "zero": false},
              "axis": {"values": [0, 8, 16, 24, 32, 40, 48, 56, 64, 72, 80, 88, 96, 104, 112, 120, 128, 136, 144, 152, 160, 168, 176, 184], "grid": true, "labels": false, "ticks": false, "domain": false}},
            "y": {"field": "s", "type": "quantitative", "scale": {"domain": [-0.00327, 0.00275], "nice": false, "zero": false},
              "axis": {"orient": "right", "values": [0.00236, 0, -0.003], "labelExpr": "datum.value == 0 ? '0.00' : (datum.value > 0 ? '0.00236' : '-0.003')", "grid": true, "tickSize": 3, "labelPadding": 1}}
          }
        },
        {
          "data": {"name": "tl"},
          "mark": {"type": "text", "align": "left", "baseline": "middle", "fontSize": 7.2, "color": "#000000", "font": "Liberation Sans", "dx": 1},
          "encoding": {
            "x": {"field": "i", "type": "quantitative", "scale": {"domain": [-0.15, 188.2], "nice": false, "zero": false},
              "axis": {"values": [0, 8, 16, 24, 32, 40, 48, 56, 64, 72, 80, 88, 96, 104, 112, 120, 128, 136, 144, 152, 160, 168, 176, 184], "grid": true, "labels": false, "ticks": false, "domain": false}},
            "y": {"datum": -0.00425, "scale": {"domain": [-0.00327, 0.00275], "nice": false, "zero": false},
              "axis": {"orient": "right", "values": [0.00236, 0, -0.003], "labelExpr": "datum.value == 0 ? '0.00' : (datum.value > 0 ? '0.00236' : '-0.003')", "grid": true, "tickSize": 3, "labelPadding": 1}},
            "text": {"field": "t"}
          }
        },
        {
          "data": {"values": [{"t": "MACD(12,26,9) -0.00152 -0.00201"}]},
          "mark": {"type": "text", "align": "left", "baseline": "middle", "fontSize": 7.4, "color": "#000000", "font": "Liberation Sans"},
          "encoding": {
            "x": {"datum": 1.2, "scale": {"domain": [-0.15, 188.2], "nice": false, "zero": false},
              "axis": {"values": [0, 8, 16, 24, 32, 40, 48, 56, 64, 72, 80, 88, 96, 104, 112, 120, 128, 136, 144, 152, 160, 168, 176, 184], "grid": true, "labels": false, "ticks": false, "domain": false}},
            "y": {"datum": 0.00224, "scale": {"domain": [-0.00327, 0.00275], "nice": false, "zero": false},
              "axis": {"orient": "right", "values": [0.00236, 0, -0.003], "labelExpr": "datum.value == 0 ? '0.00' : (datum.value > 0 ? '0.00236' : '-0.003')", "grid": true, "tickSize": 3, "labelPadding": 1}},
            "text": {"field": "t"}
          }
        },
        {
          "data": {"values": [{"t": "instaforex"}]},
          "mark": {"type": "rect", "color": "#e36868", "cornerRadius": 2},
          "encoding": {
            "x": {"datum": 73.2, "scale": {"domain": [-0.15, 188.2], "nice": false, "zero": false},
              "axis": {"values": [0, 8, 16, 24, 32, 40, 48, 56, 64, 72, 80, 88, 96, 104, 112, 120, 128, 136, 144, 152, 160, 168, 176, 184], "grid": true, "labels": false, "ticks": false, "domain": false}},
            "x2": {"datum": 126.2},
            "y": {"datum": -0.00232, "scale": {"domain": [-0.00327, 0.00275], "nice": false, "zero": false},
              "axis": {"orient": "right", "values": [0.00236, 0, -0.003], "labelExpr": "datum.value == 0 ? '0.00' : (datum.value > 0 ? '0.00236' : '-0.003')", "grid": true, "tickSize": 3, "labelPadding": 1}},
            "y2": {"datum": -0.0052}
          }
        },
        {
          "data": {"values": [{"t": "instaforex"}]},
          "mark": {"type": "text", "align": "center", "baseline": "middle", "fontSize": 18, "color": "#ffffff", "font": "Open Sans"},
          "encoding": {
            "x": {"datum": 99.6, "scale": {"domain": [-0.15, 188.2], "nice": false, "zero": false},
              "axis": {"values": [0, 8, 16, 24, 32, 40, 48, 56, 64, 72, 80, 88, 96, 104, 112, 120, 128, 136, 144, 152, 160, 168, 176, 184], "grid": true, "labels": false, "ticks": false, "domain": false}},
            "y": {"datum": -0.0036, "scale": {"domain": [-0.00327, 0.00275], "nice": false, "zero": false},
              "axis": {"orient": "right", "values": [0.00236, 0, -0.003], "labelExpr": "datum.value == 0 ? '0.00' : (datum.value > 0 ? '0.00236' : '-0.003')", "grid": true, "tickSize": 3, "labelPadding": 1}},
            "text": {"field": "t"}
          }
        }
      ]
    }
  ]
}
